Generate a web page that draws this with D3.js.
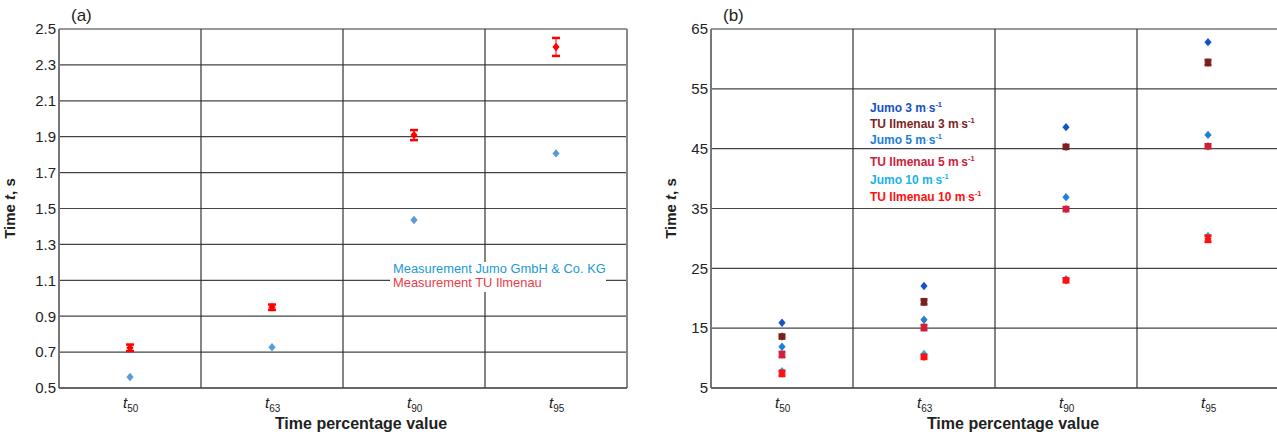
<!DOCTYPE html>
<html><head><meta charset="utf-8">
<script src="https://cdn.jsdelivr.net/npm/d3@7"></script>
<style>body{margin:0;background:#fff} text{font-family:"Liberation Sans",Arial,sans-serif}</style>
</head><body><svg id="c" width="1277" height="432"></svg>
<script>
const categories = ["50","63","90","95"];
const aTicks = [0.5,0.7,0.9,1.1,1.3,1.5,1.7,1.9,2.1,2.3,2.5];
const aJumo = [0.561,0.727,1.436,1.807];
const aTU = [0.724,0.950,1.909,2.400];
const aTUerr = [0.018,0.015,0.028,0.05];
const aLegend = ["Measurement Jumo GmbH & Co. KG","Measurement TU Ilmenau"];

const bTicks = [5,15,25,35,45,55,65];
const bJumo3 = [15.9,22.05,48.6,62.8];
const bTU3 = [13.6,19.4,45.3,59.4];
const bJumo5 = [11.9,16.4,36.9,47.3];
const bTU5 = [10.6,15.1,34.9,45.4];
const bJumo10 = [7.8,10.7,23.2,30.4];
const bTU10 = [7.45,10.2,23.0,29.95];
const bTU3err = [0.3,0.4,0.3,0.4];
const bTU5err = [0.4,0.4,0.3,0.3];
const bTU10err = [0.4,0.3,0.3,0.5];
const bNames = ["Jumo 3","TU Ilmenau 3","Jumo 5","TU Ilmenau 5","Jumo 10","TU Ilmenau 10"];

const svg = d3.select("#c");
const H = {top:29,bottom:388,w:568};

function panel(left, domain, ticks, label, ytOff){
  const x = d3.scaleBand().domain(categories).range([left,left+H.w]);
  const y = d3.scaleLinear().domain(domain).range([H.bottom,H.top]);
  const g = svg.append("g");
  g.selectAll(".hg").data(ticks).enter().append("line")
    .attr("x1",left).attr("x2",left+H.w).attr("y1",d=>y(d)).attr("y2",d=>y(d))
    .attr("stroke",(d,i)=>i==ticks.length-1?"#333":"#444").attr("stroke-width",1.2);
  const bounds = categories.slice(1).map(c=>x(c));
  g.selectAll(".vg").data(bounds).enter().append("line")
    .attr("x1",d=>d).attr("x2",d=>d).attr("y1",H.top).attr("y2",H.bottom)
    .attr("stroke","#333").attr("stroke-width",1.2);
  g.append("line").attr("x1",left).attr("x2",left).attr("y1",H.top).attr("y2",H.bottom).attr("stroke","#777").attr("stroke-width",2);
  g.append("line").attr("x1",left+H.w).attr("x2",left+H.w).attr("y1",H.top).attr("y2",H.bottom).attr("stroke","#888").attr("stroke-width",2);
  g.append("line").attr("x1",left).attr("x2",left+H.w).attr("y1",H.bottom).attr("y2",H.bottom).attr("stroke","#555").attr("stroke-width",1.5);
  const ax = g.append("g").attr("transform",`translate(${left},0)`)
    .call(d3.axisLeft(y).tickValues(ticks).tickSize(0).tickPadding(3).tickFormat(d=>domain[1]>10?d3.format("d")(d):d3.format(".1f")(d)));
  ax.select(".domain").remove();
  ax.selectAll("text").attr("font-size",15).attr("fill","#222").attr("font-family","Liberation Sans, Arial, sans-serif");
  categories.forEach(c=>{
    const t = g.append("text").attr("x",x(c)+x.bandwidth()/2-7).attr("y",408).attr("font-size",15).attr("fill","#222");
    t.append("tspan").attr("font-style","italic").text("t");
    t.append("tspan").attr("font-size",10).attr("dy",4).text(c);
  });
  g.append("text").attr("x",left+H.w/2+18).attr("y",429).attr("text-anchor","middle")
    .attr("font-size",16).attr("font-weight","bold").attr("fill","#222").text("Time percentage value");
  const yt = g.append("text").attr("transform",`translate(${left-ytOff},${(H.top+H.bottom)/2}) rotate(-90)`)
    .attr("text-anchor","middle").attr("font-size",15).attr("font-weight","bold").attr("fill","#222");
  yt.append("tspan").text("Time ");
  yt.append("tspan").attr("font-style","italic").text("t");
  yt.append("tspan").text(", s");
  g.append("text").attr("x",left+12).attr("y",21).attr("font-size",17).attr("fill","#222").text(label);
  return {x,y,g};
}

const diamondPath = "M0,-4.2L3.6,0L0,4.2L-3.6,0Z";

function points(p, vals, color){
  p.g.selectAll(null).data(vals).enter().append("path")
    .attr("d",diamondPath)
    .attr("transform",(d,i)=>`translate(${p.x(categories[i])+p.x.bandwidth()/2},${p.y(d)})`)
    .attr("fill",color);
}
function errbars(p, vals, errs, color, cap, sw, stem){
  vals.forEach((v,i)=>{
    const cx = p.x(categories[i])+p.x.bandwidth()/2;
    const y1 = p.y(v+errs[i]), y2 = p.y(v-errs[i]);
    p.g.append("line").attr("x1",cx).attr("x2",cx).attr("y1",y1).attr("y2",y2).attr("stroke",color).attr("stroke-width",stem);
    [y1,y2].forEach(yy=>p.g.append("line").attr("x1",cx-cap).attr("x2",cx+cap).attr("y1",yy).attr("y2",yy).attr("stroke",color).attr("stroke-width",sw));
  });
}

// Panel (a)
const pa = panel(59,[0.5,2.5],aTicks,"(a)",44);
points(pa,aJumo,"#5b9bd5");
errbars(pa,aTU,aTUerr,"#ff0000",4,2.5,1);
points(pa,aTU,"#ff0000");
pa.g.append("rect").attr("x",390).attr("y",262).attr("width",216).attr("height",30).attr("fill","#fff");
const legA = pa.g.append("g");
legA.append("text").attr("x",393).attr("y",273).attr("font-size",12.9).attr("fill","#1b9ad6").text(aLegend[0]);
legA.append("text").attr("x",393).attr("y",287).attr("font-size",12.9).attr("fill","#ec3b47").text(aLegend[1]);

// Panel (b)
const pb = panel(711,[5,65],bTicks,"(b)",35);
const bColors = ["#1552c4","#7b1f1f","#1a80d8","#d0203a","#1ab2ef","#ff1010"];
const bVals = [bJumo3,bTU3,bJumo5,bTU5,bJumo10,bTU10];
const bErr = {1:bTU3err,3:bTU5err,5:bTU10err};
bVals.forEach((v,k)=>{
  if(bErr[k]) errbars(pb,v,bErr[k],bColors[k],3.5,3,2);
  points(pb,v,bColors[k]);
});
const legY = [112,128,144,166,184,201];
bNames.forEach((n,k)=>{
  const t = pb.g.append("text").attr("x",870).attr("y",legY[k]).attr("font-size",12).attr("font-weight","bold").attr("fill",bColors[k]);
  t.append("tspan").text(n+" m");
  t.append("tspan").attr("font-size",8).attr("font-weight","normal").attr("dy",-1).text("·");
  t.append("tspan").attr("dy",1).text("s");
  t.append("tspan").attr("font-size",7.5).attr("dy",-5).text("-1");
});
</script></body></html>
